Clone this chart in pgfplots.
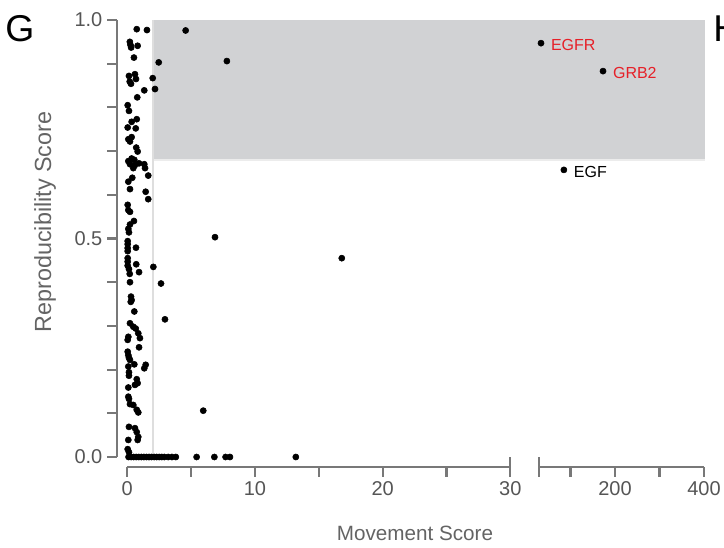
\documentclass[border=0pt]{standalone}
\usepackage{fontspec}
\setmainfont{Liberation Sans}
\usepackage{pgfplots}
\pgfplotsset{compat=1.18}
\definecolor{axgray}{RGB}{120,120,120}
\definecolor{ticktext}{RGB}{85,85,85}
\definecolor{labgray}{RGB}{100,100,100}
\definecolor{rectgray}{RGB}{209,210,212}
\definecolor{linegray}{RGB}{222,222,222}
\definecolor{edgegray}{RGB}{236,236,236}
\definecolor{labred}{RGB}{230,32,40}
\pgfplotstableread{
x y
0.74 0.979
1.54 0.977
4.57 0.976
0.20 0.950
0.25 0.943
0.30 0.937
0.81 0.941
0.52 0.914
2.46 0.903
7.8 0.906
0.13 0.872
0.60 0.876
0.68 0.865
0.19 0.859
0.29 0.854
1.99 0.867
1.33 0.839
2.17 0.842
0.78 0.823
0.03 0.805
0.13 0.792
0.74 0.773
0.34 0.767
0.03 0.754
0.66 0.752
0.34 0.732
0.08 0.727
0.21 0.722
0.70 0.708
0.81 0.699
0.08 0.677
0.34 0.683
0.55 0.680
0.21 0.670
0.60 0.668
0.47 0.661
0.92 0.672
1.33 0.670
1.39 0.661
1.64 0.644
0.39 0.639
0.08 0.630
0.21 0.613
1.44 0.607
1.64 0.590
0.03 0.577
0.08 0.565
0.21 0.561
0.52 0.540
0.21 0.532
0.08 0.522
0.13 0.514
0.03 0.494
0.03 0.487
0.03 0.478
0.03 0.471
0.68 0.479
6.87 0.503
0.03 0.455
0.03 0.447
0.03 0.438
0.13 0.430
0.19 0.419
0.70 0.441
0.92 0.423
2.04 0.435
16.8 0.455
0.21 0.400
2.64 0.397
0.29 0.367
0.34 0.359
0.27 0.355
0.55 0.333
2.95 0.315
0.21 0.306
0.47 0.298
0.66 0.294
0.86 0.283
0.99 0.272
0.08 0.275
0.03 0.268
0.92 0.251
0.03 0.241
0.08 0.233
0.13 0.227
0.21 0.222
0.55 0.212
0.08 0.207
1.44 0.211
1.33 0.203
0.13 0.194
0.13 0.186
0.74 0.178
0.81 0.169
0.08 0.159
0.60 0.165
0.08 0.138
0.13 0.133
0.47 0.119
0.21 0.121
0.86 0.102
0.74 0.108
5.95 0.106
0.13 0.069
0.60 0.066
0.74 0.057
0.86 0.046
0.08 0.039
0.81 0.039
0.03 0.018
0.13 0.011
0.10 0
0.30 0
0.50 0
0.70 0
0.90 0
1.10 0
1.30 0
1.50 0
1.70 0
1.90 0
2.10 0
2.30 0
2.50 0
2.70 0
2.90 0
3.20 0
3.50 0
3.80 0
5.43 0
6.82 0
7.70 0
8.04 0
13.2 0
}\lefttable
\pgfplotstableread{
x y
33.6 0.947
173 0.883
85 0.657
}\righttable
\begin{document}
\begin{tikzpicture}
\useasboundingbox (0,0) rectangle (543pt,-411pt);
\pgfplotsset{
  myaxis/.style={
    scale only axis, height=327.75pt, ymin=0, ymax=1, clip=false,
    axis x line*=bottom, axis x line shift=7.3pt,
    axis line style={draw=axgray, line width=1.6pt},
    tick align=outside, major tick length=7.5pt,
    major tick style={draw=axgray, line width=1.6pt},
    tick label style={font=\fontsize{15}{18}\selectfont, text=ticktext},
    /pgf/number format/assume math mode=true,
    extra x tick style={major tick length=15pt, tick align=center},
  },
  mymarks/.style={only marks, mark=*, mark size=2.3pt, mark options={draw=none, fill=black}},
}
\begin{axis}[myaxis,
  at={(95.475pt,-342.75pt)}, anchor=south west, width=287.25pt,
  xmin=0, xmax=30,
  axis y line*=left, axis y line shift=7.7pt,
  xtick={0,5,10,15,20,25}, xticklabels={0,,10,,20,},
  extra x ticks={30},
  ytick={0,0.1,0.2,0.3,0.4,0.5,0.6,0.7,0.8,0.9,1},
  yticklabels={0.0,,,,,0.5,,,,,1.0},
]
\fill[rectgray] (axis cs:2,0.68) rectangle (axis cs:33,1);
\draw[edgegray, line width=1.5pt] (axis cs:2,0.68) -- (axis cs:33,0.68);
\draw[linegray, line width=1.5pt] (axis cs:2,0) -- (axis cs:2,1);
\addplot[mymarks] table[x=x,y=y] {\lefttable};
\end{axis}
\begin{axis}[myaxis,
  at={(404.55pt,-342.75pt)}, anchor=south west, width=123.45pt,
  xmin=30, xmax=400,
  axis y line=none,
  xtick={100,200,300,400}, xticklabels={,200,,400},
  extra x ticks={30}, extra x tick labels={},
]
\fill[rectgray] (axis cs:30,0.68) rectangle (axis cs:402,1);
\draw[edgegray, line width=1.5pt] (axis cs:30,0.68) -- (axis cs:402,0.68);
\addplot[mymarks] table[x=x,y=y] {\righttable};
\node[anchor=west, text=labred, font=\fontsize{12}{14}\selectfont, xshift=4pt, yshift=-1.5pt] at (axis cs:33.6,0.947) {EGFR};
\node[anchor=west, text=labred, font=\fontsize{12}{14}\selectfont, xshift=4pt, yshift=-1.5pt] at (axis cs:173,0.883) {GRB2};
\node[anchor=west, text=black, font=\fontsize{12}{14}\selectfont, xshift=4pt, yshift=-1.5pt] at (axis cs:85,0.657) {EGF};
\end{axis}
\node[anchor=base west, inner sep=0pt, font=\fontsize{28}{30}\selectfont] at (3.75pt,-31.5pt) {G};
\node[anchor=base west, inner sep=0pt, font=\fontsize{28}{30}\selectfont] at (534.75pt,-31.5pt) {H};
\node[rotate=90, text=labgray, font=\fontsize{17.5}{20}\selectfont] at (33.75pt,-166.5pt) {Reproducibility Score};
\node[text=labgray, font=\fontsize{15.5}{18}\selectfont] at (311.25pt,-399.75pt) {Movement Score};
\end{tikzpicture}
\end{document}
